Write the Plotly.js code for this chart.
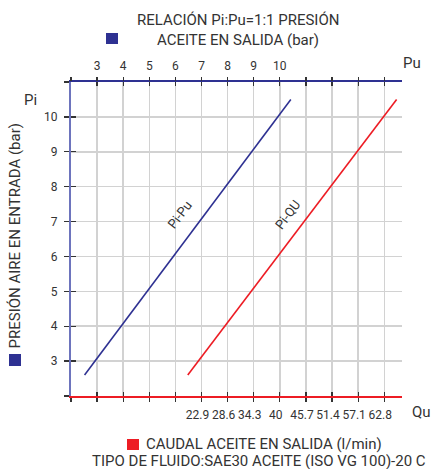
<!DOCTYPE html>
<html>
<head>
<meta charset="utf-8">
<script src="https://cdn.plot.ly/plotly-3.0.1.min.js"></script>
<style>html,body{margin:0;padding:0;background:#fff;}#chart{width:432px;height:469px;}</style>
</head>
<body>
<div id="chart"></div>
<script>
// ---- data ----
const puLabels = [3, 4, 5, 6, 7, 8, 9, 10];
const quLabels = [22.9, 28.6, 34.3, 40, 45.7, 51.4, 57.1, 62.8];
const piLabels = [3, 4, 5, 6, 7, 8, 9, 10];
const piPuX = [2.52, 10.42];   // Pu (bar)
const piPuY = [2.6, 10.5];     // Pi (bar)
const piQuX = [19.9, 65.5];    // Qu (l/min)
const piQuY = [2.6, 10.5];     // Pi (bar)

const puRange = [2, 14.68];
const piRange = [2, 11];
// Qu axis aligned so that 22.9 l/min sits at Pu grid 7, 5.7 l/min per grid step
const quRange = puRange.map(p => 22.9 + 5.7 * (p - 7));

const BLUE = '#2e3192', RED = '#ed1c24', TXT = '#333333', GRID = '#d2d2d2', TICK = '#333333';
const FONT = 'Roboto, "Liberation Sans", sans-serif';

const L = 71, T = 82, W = 331, H = 314;
const X = px => (px - L) / W;
const Y = py => (T + H - py) / H;

const traces = [
  {x: piPuX, y: piPuY, xaxis: 'x', yaxis: 'y', type: 'scatter', mode: 'lines',
   line: {color: BLUE, width: 1.6}, opacity: 0, hoverinfo: 'skip'},
  {x: piPuX, y: piPuY, xaxis: 'x', yaxis: 'y2', type: 'scatter', mode: 'lines',
   line: {color: BLUE, width: 1.6}, opacity: 0, hoverinfo: 'skip'},
  {x: piPuX, y: piPuY, xaxis: 'x4', yaxis: 'y', type: 'scatter', mode: 'lines',
   line: {color: BLUE, width: 1.6}, opacity: 0, hoverinfo: 'skip'},
  {x: piPuX, y: piPuY, xaxis: 'x5', yaxis: 'y', type: 'scatter', mode: 'lines',
   line: {color: BLUE, width: 1.6}, opacity: 0, hoverinfo: 'skip'},
  {x: piPuX, y: piPuY, xaxis: 'x6', yaxis: 'y', type: 'scatter', mode: 'lines',
   line: {color: BLUE, width: 1.6}, opacity: 0, hoverinfo: 'skip'},
  {x: piPuX, y: piPuY, xaxis: 'x2', yaxis: 'y', type: 'scatter', mode: 'lines',
   line: {color: BLUE, width: 1.6}, hoverinfo: 'skip'},
  {x: piQuX, y: piQuY, xaxis: 'x3', yaxis: 'y', type: 'scatter', mode: 'lines',
   line: {color: RED, width: 1.6}, hoverinfo: 'skip'}
];

const tickMarks = (extra) => Object.assign({
  range: puRange, tickmode: 'linear', tick0: 2, dtick: 1, ticklen: 4, tickwidth: 1.3,
  tickcolor: TICK, showticklabels: false, showgrid: false, zeroline: false, showline: false,
  fixedrange: true
}, extra);

const layout = {
  width: 432, height: 469,
  margin: {l: L, r: 432 - L - W, t: T, b: 469 - T - H, pad: 0},
  paper_bgcolor: '#fff', plot_bgcolor: '#fff',
  showlegend: false,
  font: {family: FONT, color: TXT, size: 12},
  xaxis: {
    range: puRange, tickmode: 'linear', tick0: 2, dtick: 1, ticks: 'outside', ticklen: 4,
    tickwidth: 1.3, tickcolor: TICK, showticklabels: false,
    showgrid: true, gridcolor: GRID, gridwidth: 1.5, zeroline: false,
    showline: true, linecolor: RED, linewidth: 1.5, fixedrange: true
  },
  xaxis2: {
    overlaying: 'x', side: 'top', anchor: 'y', range: puRange,
    tickmode: 'array', tickvals: puLabels, ticktext: puLabels.map(String),
    ticks: '', ticklabelstandoff: 5, tickfont: {size: 12, color: TXT},
    showgrid: false, zeroline: false, showline: true, linecolor: BLUE, linewidth: 2,
    fixedrange: true
  },
  xaxis3: {
    overlaying: 'x', side: 'bottom', anchor: 'y', range: quRange,
    tickmode: 'array', tickvals: quLabels, ticktext: quLabels.map(v => v.toFixed(v % 1 ? 1 : 0)),
    ticks: '', ticklabelstandoff: 10, ticklabelshift: -4, tickfont: {size: 12, color: TXT},
    showgrid: false, zeroline: false, showline: false, fixedrange: true
  },
  xaxis4: tickMarks({overlaying: 'x', side: 'bottom', anchor: 'y', ticks: 'inside'}),
  xaxis5: tickMarks({overlaying: 'x', side: 'top', anchor: 'y', ticks: 'outside'}),
  xaxis6: tickMarks({overlaying: 'x', side: 'top', anchor: 'y', ticks: 'inside'}),
  yaxis: {
    range: piRange, tickmode: 'array', tickvals: [2].concat(piLabels, [11]),
    ticktext: [''].concat(piLabels.map(String), ['']),
    ticks: 'outside', ticklen: 5, tickwidth: 1.3, tickcolor: TICK, ticklabelstandoff: 4,
    tickfont: {size: 12, color: TXT},
    showgrid: true, gridcolor: GRID, gridwidth: 1.5, zeroline: false,
    showline: true, linecolor: '#6d74bd', linewidth: 2, fixedrange: true
  },
  yaxis2: {
    overlaying: 'y', side: 'left', anchor: 'x', range: piRange, tickmode: 'linear', tick0: 2, dtick: 1,
    ticks: 'inside', ticklen: 5, tickwidth: 1.3, tickcolor: TICK, showticklabels: false,
    showgrid: false, zeroline: false, showline: false, fixedrange: true
  },
  shapes: [
    {type: 'rect', xref: 'paper', yref: 'paper', x0: X(106), x1: X(118), y0: Y(44), y1: Y(33),
     fillcolor: BLUE, line: {width: 0}},
    {type: 'rect', xref: 'paper', yref: 'paper', x0: X(9), x1: X(21), y0: Y(366), y1: Y(354),
     fillcolor: BLUE, line: {width: 0}},
    {type: 'rect', xref: 'paper', yref: 'paper', x0: X(127), x1: X(139), y0: Y(450), y1: Y(439),
     fillcolor: RED, line: {width: 0}}
  ],
  annotations: [
    {xref: 'paper', yref: 'paper', x: X(237.5), y: Y(20), text: 'RELACIÓN Pi:Pu=1:1 PRESIÓN',
     showarrow: false, xanchor: 'center', yanchor: 'middle', font: {size: 15}},
    {xref: 'paper', yref: 'paper', x: X(237.5), y: Y(40), text: 'ACEITE EN SALIDA (bar)',
     showarrow: false, xanchor: 'center', yanchor: 'middle', font: {size: 15}},
    {xref: 'paper', yref: 'paper', x: X(412), y: Y(63), text: 'Pu',
     showarrow: false, xanchor: 'center', yanchor: 'middle', font: {size: 15}},
    {xref: 'paper', yref: 'paper', x: X(421), y: Y(412), text: 'Qu',
     showarrow: false, xanchor: 'center', yanchor: 'middle', font: {size: 15}},
    {xref: 'paper', yref: 'paper', x: X(30), y: Y(100), text: 'Pi',
     showarrow: false, xanchor: 'center', yanchor: 'middle', font: {size: 15}},
    {xref: 'paper', yref: 'paper', x: X(15), y: Y(236.5), text: 'PRESIÓN AIRE EN ENTRADA (bar)',
     showarrow: false, textangle: -90, xanchor: 'center', yanchor: 'middle', font: {size: 15}},
    {xref: 'paper', yref: 'paper', x: X(144), y: Y(444), text: 'CAUDAL ACEITE EN SALIDA (l/min)',
     showarrow: false, xanchor: 'left', yanchor: 'middle', font: {size: 15}},
    {xref: 'paper', yref: 'paper', x: X(259), y: Y(461), text: 'TIPO DE FLUIDO:SAE30 ACEITE (ISO VG 100)-20 C',
     showarrow: false, xanchor: 'center', yanchor: 'middle', font: {size: 15}},
    {xref: 'x2', yref: 'y', x: 6.18, y: 7.19, text: 'Pi-Pu', showarrow: false, textangle: -53,
     xanchor: 'center', yanchor: 'middle', font: {size: 13}},
    {xref: 'x3', yref: 'y', x: 41.8, y: 7.19, text: 'Pi-QU', showarrow: false, textangle: -53,
     xanchor: 'center', yanchor: 'middle', font: {size: 13}}
  ]
};

Plotly.newPlot('chart', traces, layout, {displayModeBar: false, staticPlot: true});
</script>
</body>
</html>
